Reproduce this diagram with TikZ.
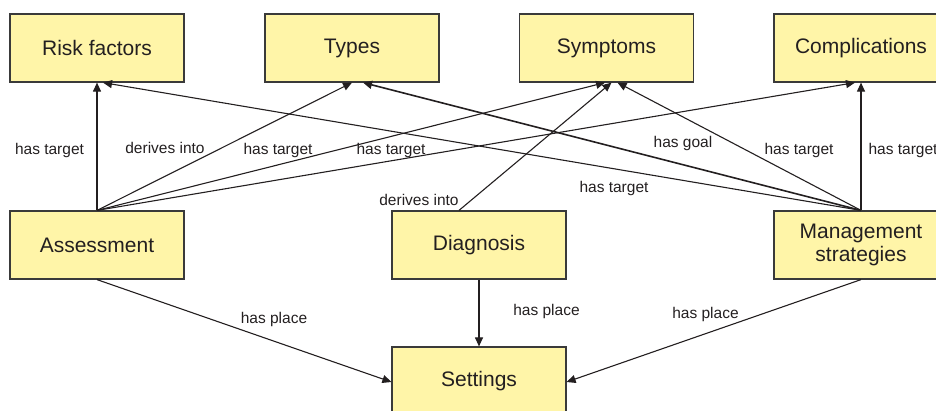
\documentclass[tikz,border=0pt]{standalone}
\usepackage{fontspec}
\setmainfont{Liberation Sans}
\usetikzlibrary{arrows.meta}
\definecolor{boxfill}{HTML}{FFF5A8}
\definecolor{boxline}{HTML}{3A3A3A}
\definecolor{txt}{HTML}{231F20}
\begin{document}
\begin{tikzpicture}[x=1pt,y=-1pt,
  box/.style={draw=boxline,fill=boxfill,line width=1.2pt,minimum width=174pt,minimum height=68pt,inner sep=0pt,align=center,font=\fontsize{21}{23}\selectfont,text=txt},
  conn/.style={draw=txt,line width=1.1pt,-{Triangle[length=9pt,width=8pt]}},
  lbl/.style={font=\fontsize{15.5}{17}\selectfont,text=txt,inner sep=0pt}]
\useasboundingbox (0,0) rectangle (936,410);
\node[box] (risk) at (97,48) {Risk factors};
\node[box] (types) at (352,48) {Types};
\node[box] (symp) at (606.5,48) {Symptoms};
\node[box] (comp) at (861,48) {Complications};
\node[box] (assess) at (97,245) {Assessment};
\node[box] (diag) at (479,245) {Diagnosis};
\node[box] (mgmt) at (861,245) {Management\\strategies};
\node[box] (sett) at (479,381) {Settings};

\draw[conn] (assess.north) -- (risk.south);
\draw[conn] (assess.north) -- (types.south);
\draw[conn] (assess.north) -- ([xshift=-1.5pt]symp.south);
\draw[conn] (assess.north) -- ([xshift=-6pt]comp.south);
\draw[conn] (mgmt.north) -- ([xshift=6pt]risk.south);
\draw[conn,line width=1.6pt] (mgmt.north) -- ([xshift=11pt]types.south);
\draw[conn] (mgmt.north) -- ([xshift=11pt]symp.south);
\draw[conn] (mgmt.north) -- (comp.south);
\draw[conn] ([xshift=-20pt]diag.north) -- ([xshift=5pt]symp.south);
\draw[conn] (diag.south) -- (sett.north);
\draw[conn] (assess.south) -- ([yshift=-1pt]sett.west);
\draw[conn] (mgmt.south) -- ([yshift=-1pt]sett.east);

\node[lbl] (l1) at (49.5,150) {has target};
\node[lbl] (l2) at (165,148) {derives into};
\node[lbl] (l3) at (278,150) {has target};
\node[lbl] (l4) at (391,150) {has target};
\node[lbl] (l5) at (419,200) {derives into};
\node[lbl] (l6) at (614,188) {has target};
\node[lbl] (l7) at (683,143) {has goal};
\node[lbl] (l8) at (799,150) {has target};
\node[lbl] (l9) at (903,150) {has target};
\node[lbl] (l10) at (274,319) {has place};
\node[lbl] (l11) at (546.5,311) {has place};
\node[lbl] (l12) at (705.5,314) {has place};
\end{tikzpicture}
\end{document}
